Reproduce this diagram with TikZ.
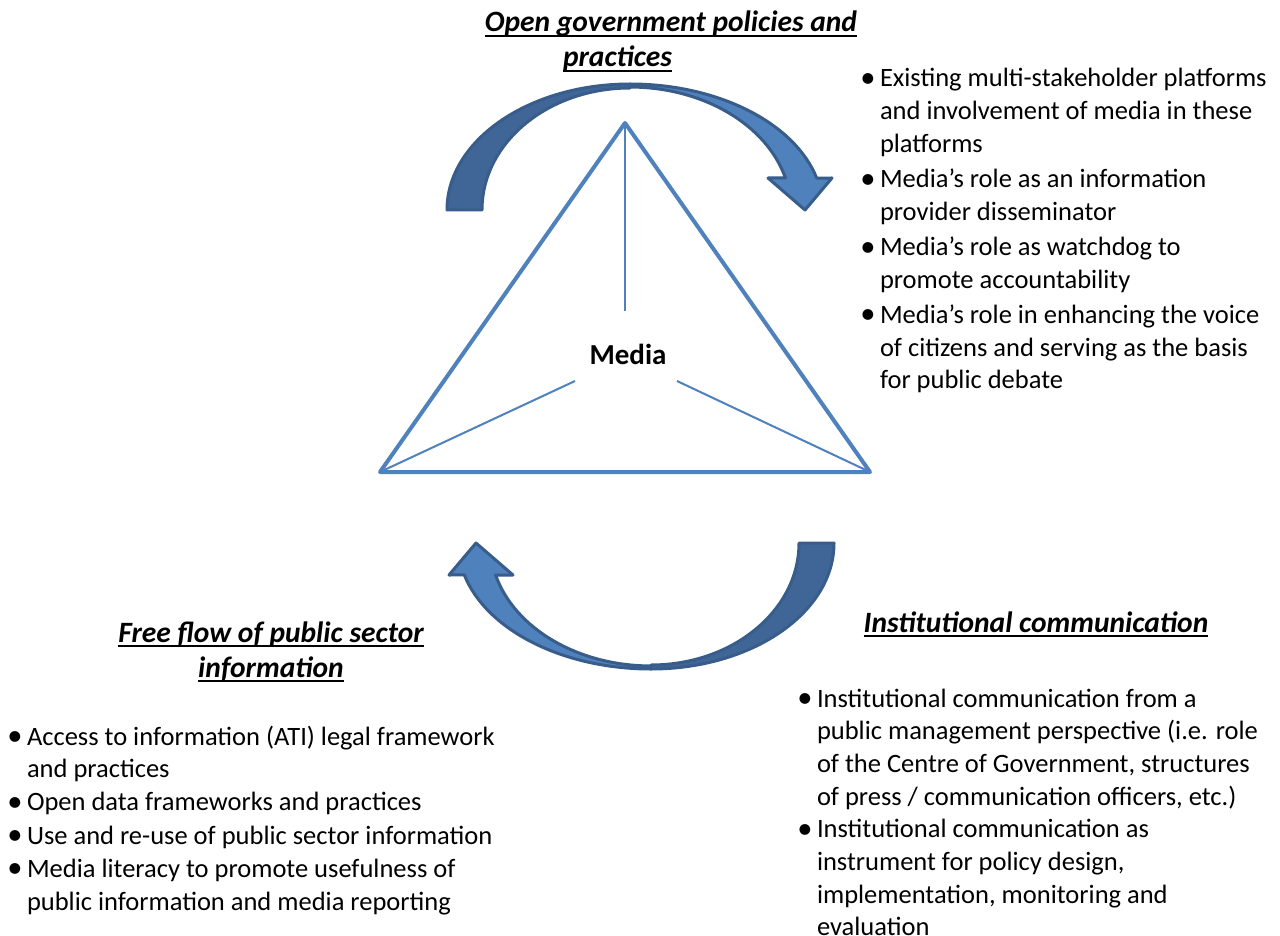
\documentclass[tikz,border=0pt]{standalone}
\usepackage{fontspec}
\setmainfont{Carlito}
\definecolor{triblue}{RGB}{79,129,189}
\definecolor{darkband}{RGB}{64,102,151}
\definecolor{lightband}{RGB}{79,129,189}
\definecolor{arrowline}{RGB}{56,93,138}
\newcommand\ulx[1]{\setbox0\hbox{#1}\makebox[0pt][l]{\rule[-5pt]{\wd0}{1.9pt}}\box0}
\newcommand\bul{\makebox[17pt][l]{\hspace*{5pt}\makebox[0pt][c]{\raisebox{-0.6pt}{\scalebox{1.15}{•}}}}}
\newcommand\arrowshape{%
  \path[darkfill] (447,-210) arc[start angle=180, end angle=90, x radius=183, y radius=126]
     -- (630,-88) arc[start angle=90, end angle=180, x radius=148, y radius=122] -- cycle;
  \path[lightfill] (630,-84) arc[start angle=90, end angle=14.7, x radius=193, y radius=126]
     -- (832,-178) -- (805,-210) -- (768,-178) -- (785.4,-178)
     arc[start angle=15.1, end angle=90, x radius=161, y radius=123] -- cycle;
}
\begin{document}
\begin{tikzpicture}[x=1pt,y=1pt,
  every node/.style={inner sep=0pt, outer sep=0pt},
  body/.style={font=\fontsize{26.5pt}{32.7pt}\selectfont, anchor=base west, align=left},
  head/.style={font=\fontsize{29.5pt}{35pt}\selectfont\bfseries\itshape, anchor=base},
  darkfill/.style={fill=darkband, draw=arrowline, line width=3pt, line join=round},
  lightfill/.style={fill=lightband, draw=arrowline, line width=3pt, line join=round},
  triline/.style={draw=triblue, line width=4pt, line join=round},
  spoke/.style={draw=triblue, line width=2pt}]
\useasboundingbox (0,0) rectangle (1280,-936);
\fill[white] (0,0) rectangle (1280,-936);

% curved arrows
\arrowshape
\begin{scope}[rotate around={180:(640.5,-376.5)}]
\arrowshape
\end{scope}

% triangle
\coordinate (T) at (625,-123);
\coordinate (L) at (380,-472);
\coordinate (R) at (870,-472);
\coordinate (cT) at (625,-311);
\coordinate (cL) at (575,-381);
\coordinate (cR) at (677,-381);
\draw[triline] (T) -- (L) -- (R) -- cycle;
\draw[spoke] (T) -- (cT);
\draw[spoke] (L) -- (cL);
\draw[spoke] (R) -- (cR);
\node[font=\fontsize{29pt}{34pt}\selectfont\bfseries] (media) at (628,-354) {Media};

% headings
\node[head] (h1a) at (671,-32) {\ulx{Open government policies and}};
\node[head] (h1b) at (617.5,-67) {\ulx{practices}};
\node[head] (h2a) at (271,-642) {\ulx{Free flow of public sector}};
\node[head] (h2b) at (271,-677) {\ulx{information}};
\node[head] (h3) at (1036,-632) {\ulx{Institutional communication}};

% bullet lists
\node[body] (list1) at (863,-87) {\begin{tabular}[t]{@{}l@{}l@{}}
\bul & Existing multi-stakeholder platforms\\
 & and involvement of media in these\\
 & platforms\\[2.5pt]
\bul & Media’s role as an information\\
 & provider disseminator\\[2.5pt]
\bul & Media’s role as watchdog to\\
 & promote accountability\\[2.5pt]
\bul & Media’s role in enhancing the voice\\
 & of citizens and serving as the basis\\
 & for public debate
\end{tabular}};

\node[body] (list2) at (10,-745) {\begin{tabular}[t]{@{}l@{}l@{}}
\bul & Access to information (ATI) legal framework\\
 & and practices\\[0.5pt]
\bul & Open data frameworks and practices\\[0.5pt]
\bul & Use and re-use of public sector information\\[0.5pt]
\bul & Media literacy to promote usefulness of\\
 & public information and media reporting
\end{tabular}};

\node[body] (list3) at (800,-707) {\begin{tabular}[t]{@{}l@{}l@{}}
\bul & Institutional communication from a\\
 & public management perspective (i.e. role\\
 & of the Centre of Government, structures\\
 & of press / communication officers, etc.)\\
\bul & Institutional communication as\\
 & instrument for policy design,\\
 & implementation, monitoring and\\
 & evaluation
\end{tabular}};
\end{tikzpicture}
\end{document}
